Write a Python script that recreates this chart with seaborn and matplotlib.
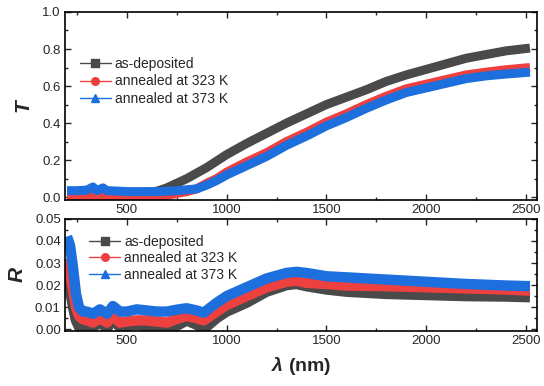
import numpy as np
import matplotlib
matplotlib.use('Agg')
import matplotlib.pyplot as plt
from matplotlib.lines import Line2D
from matplotlib.ticker import MultipleLocator, FormatStrFormatter
import seaborn as sns

sns.set_style('ticks')
plt.rcParams['font.family'] = ['Liberation Sans', 'DejaVu Sans']
plt.rcParams['mathtext.fontset'] = 'custom'
plt.rcParams['mathtext.it'] = 'Liberation Sans:italic:bold'
plt.rcParams['mathtext.bf'] = 'Liberation Sans:bold'

# transmittance
wl_T = [200, 250, 300, 330, 350, 380, 400, 450, 500, 550, 600, 650, 700, 750, 800, 850,
        900, 950, 1000, 1100, 1200, 1300, 1400, 1500, 1600, 1700, 1800, 1900, 2000,
        2100, 2200, 2300, 2400, 2520]
T_dep = [.03, .03, .03, .03, .03, .03, .03, .028, .025, .025, .025, .032, .05, .075, .10, .13,
         .16, .195, .23, .29, .345, .40, .45, .50, .54, .58, .625, .66, .69,
         .72, .75, .77, .79, .805]
T_323 = [.008, .008, .01, .01, .01, .009, .008, .007, .005, .005, .005, .006, .01, .02, .03, .045,
         .075, .10, .135, .19, .24, .30, .35, .405, .45, .50, .545, .585, .61,
         .635, .66, .675, .688, .70]
T_373 = [.035, .035, .038, .055, .035, .05, .035, .033, .03, .03, .03, .03, .032, .035, .04, .045,
         .065, .09, .12, .17, .22, .28, .33, .385, .43, .48, .525, .565, .59,
         .615, .64, .655, .665, .675]

# reflectance
wl_R = [200, 215, 230, 245, 260, 280, 300, 330, 365, 400, 430, 465, 500, 550, 600, 650,
        700, 760, 800, 850, 885, 950, 1000, 1100, 1200, 1300, 1350, 1400, 1500, 1600,
        1800, 2000, 2200, 2400, 2520]
R_dep = [.025, .018, .01, .004, .001, .0, .0, .001, .003, .0005, .004, .001, .0015, .002, .001, .0005,
         .0, .002, .004, .002, .0, .005, .008, .012, .017, .020, .0205, .0195, .018, .017,
         .016, .0155, .015, .0148, .0145]
R_323 = [.032, .026, .018, .01, .006, .0045, .004, .003, .005, .003, .006, .003, .0035, .004, .004, .0035,
         .003, .005, .006, .005, .004, .008, .011, .015, .019, .0215, .022, .021, .0205, .0198,
         .0195, .019, .0185, .018, .0175]
R_373 = [.042, .038, .028, .016, .01, .008, .008, .007, .009, .007, .0105, .008, .008, .009, .0085, .008,
         .008, .009, .0095, .0085, .0075, .012, .015, .019, .023, .0255, .026, .0255, .024, .0235,
         .0225, .0215, .0205, .0198, .0195]

labels = ['as-deposited', 'annealed at 323 K', 'annealed at 373 K']
colors = ['#4a4a4a', '#ef4040', '#1c6fdc']
markers = ['s', 'o', '^']

fig = plt.figure(figsize=(5.44, 3.86), dpi=100)
ax1 = fig.add_axes([0.1195, 0.482, 0.8675, 0.487])
ax2 = fig.add_axes([0.1195, 0.1425, 0.8675, 0.2905])

for y, c in zip([T_dep, T_323, T_373], colors):
    sns.lineplot(x=wl_T, y=y, ax=ax1, color=c, lw=6.5, solid_capstyle='butt')
for y, c in zip([R_dep, R_323, R_373], colors):
    sns.lineplot(x=wl_R, y=y, ax=ax2, color=c, lw=7.5, solid_capstyle='butt')

handles = [Line2D([0], [0], color=c, lw=1, marker=m, markersize=5.5) for c, m in zip(colors, markers)]

for ax in (ax1, ax2):
    ax.set_xlim(190, 2555)
    ax.xaxis.set_major_locator(MultipleLocator(500))
    ax.xaxis.set_minor_locator(MultipleLocator(250))
    ax.tick_params(which='both', direction='in', top=True, right=True, labelsize=9.5, width=1, pad=3)
    ax.tick_params(which='major', length=4.5)
    ax.tick_params(which='minor', length=2.5)
    for s in ax.spines.values():
        s.set_linewidth(1.2)
        s.set_color('black')

ax1.set_ylim(-0.015, 1.0)
ax1.yaxis.set_major_locator(MultipleLocator(0.2))
ax1.yaxis.set_minor_locator(MultipleLocator(0.1))
ax1.yaxis.set_major_formatter(FormatStrFormatter('%.1f'))
ax1.set_ylabel('$\\mathit{T}$', fontsize=15, labelpad=6)

ax2.set_ylim(-0.0008, 0.05)
ax2.yaxis.set_major_locator(MultipleLocator(0.01))
ax2.yaxis.set_minor_locator(MultipleLocator(0.005))
ax2.yaxis.set_major_formatter(FormatStrFormatter('%.2f'))
ax2.set_ylabel('$\\mathit{R}$', fontsize=15, labelpad=6)
ax2.set_xlabel('$\\mathit{\\lambda}$ (nm)', fontsize=14, fontweight='bold', labelpad=6)

ax1.legend(handles, labels, loc='upper left', bbox_to_anchor=(0.02, 0.79), frameon=False,
           fontsize=10, handlelength=2.2, handletextpad=0.3, labelspacing=0.25, borderaxespad=0)
ax2.legend(handles, labels, loc='upper left', bbox_to_anchor=(0.04, 0.91), frameon=False,
           fontsize=10, handlelength=2.2, handletextpad=0.3, labelspacing=0.2, borderaxespad=0)

fig.savefig('out.png', dpi=100)
